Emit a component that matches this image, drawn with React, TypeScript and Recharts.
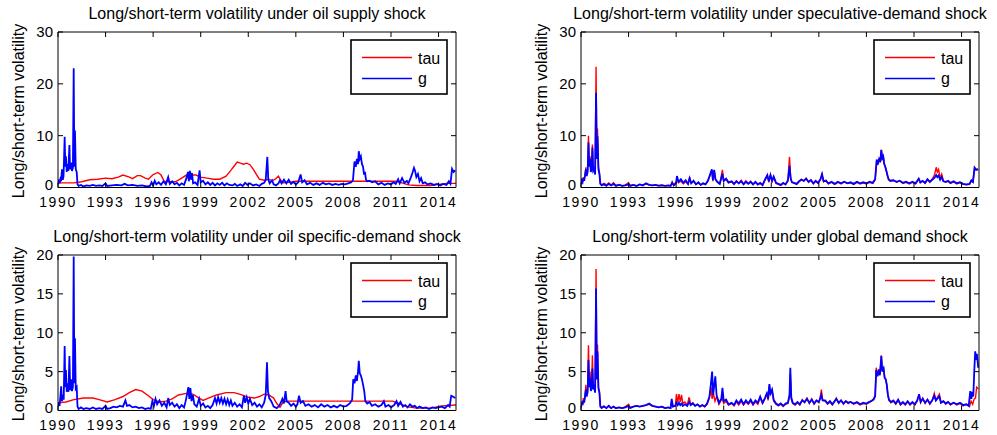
import { LineChart, Line, XAxis, YAxis } from 'recharts'

type Pt = [number, number]

const X_TICKS = [1990, 1993, 1996, 1999, 2002, 2005, 2008, 2011, 2014]
const X_DOMAIN: [number, number] = [1990, 2015.1]
const Y_TICKS_30 = [0, 10, 20, 30]
const Y_TICKS_20 = [0, 5, 10, 15, 20]
const Y_LABEL = 'Long/short-term volatility'
const SERIES_NAMES = ['tau', 'g']

const TITLES = [
  'Long/short-term volatility under oil supply shock',
  'Long/short-term volatility under speculative-demand shock',
  'Long/short-term volatility under oil specific-demand shock',
  'Long/short-term volatility under global demand shock',
]

// oil supply shock
const supplyTau: Pt[] = [
  [1990.0, 1.1], [1990.1, 0.9], [1991.0, 0.9], [1991.5, 1.1], [1992.0, 1.5], [1992.5, 1.6],
  [1993.0, 1.8], [1993.4, 1.7], [1993.8, 2.0], [1994.1, 2.4], [1994.5, 2.0], [1994.7, 1.7],
  [1995.0, 2.3], [1995.2, 2.3], [1995.5, 1.8], [1995.7, 1.6], [1996.0, 2.5], [1996.3, 2.9],
  [1996.5, 2.4], [1996.7, 1.2], [1997.0, 1.1], [1997.4, 1.1], [1997.7, 1.6], [1998.1, 2.4],
  [1998.4, 2.4], [1998.7, 2.4], [1999.0, 2.0], [1999.4, 1.8], [1999.8, 1.6], [2000.2, 1.6],
  [2000.6, 2.2], [2000.9, 3.3], [2001.1, 4.1], [2001.3, 4.9], [2001.5, 4.7], [2001.7, 4.5],
  [2001.9, 4.7], [2002.1, 4.4], [2002.3, 3.6], [2002.5, 2.6], [2002.7, 1.6], [2003.0, 1.4],
  [2003.3, 1.6], [2003.5, 1.3], [2003.7, 1.6], [2003.9, 2.2], [2004.05, 1.4], [2004.2, 0.9],
  [2004.6, 1.0], [2005.0, 1.2], [2011.3, 1.2], [2011.7, 0.9], [2012.1, 0.5], [2012.6, 0.4],
  [2013.5, 0.4], [2014.0, 0.6], [2014.5, 0.8], [2015.1, 0.8],
]
const supplyG: Pt[] = [
  [1990.0, 0.6], [1990.05, 1.5], [1990.1, 0.8], [1990.15, 1.6], [1990.2, 1.2], [1990.25, 3.5],
  [1990.3, 1.5], [1990.35, 2.2], [1990.42, 9.8], [1990.46, 4.0], [1990.5, 6.0], [1990.55, 3.0],
  [1990.6, 4.5], [1990.65, 3.2], [1990.72, 8.2], [1990.76, 3.5], [1990.82, 4.8], [1990.88, 3.2],
  [1990.94, 3.8], [1990.99, 23.0], [1991.03, 4.0], [1991.07, 11.0], [1991.12, 3.5], [1991.18, 3.0],
  [1991.23, 0.6], [1991.3, 0.3], [1991.45, 0.5], [1991.6, 0.2], [1991.8, 0.4], [1992.0, 0.3],
  [1992.2, 0.5], [1992.4, 0.3], [1992.6, 0.4], [1992.8, 0.3], [1993.0, 0.8], [1993.1, 0.3],
  [1993.4, 0.4], [1993.7, 0.5], [1994.0, 0.4], [1994.2, 0.7], [1994.4, 0.4], [1994.7, 0.5],
  [1995.0, 0.3], [1995.3, 0.4], [1995.6, 0.2], [1995.8, 0.3], [1995.9, 1.0], [1996.0, 0.4],
  [1996.1, 1.3], [1996.2, 0.6], [1996.35, 1.0], [1996.5, 0.5], [1996.65, 1.2], [1996.8, 0.6],
  [1996.95, 2.0], [1997.05, 0.7], [1997.2, 1.2], [1997.35, 0.6], [1997.5, 0.9], [1997.65, 0.4],
  [1997.8, 0.8], [1997.95, 0.5], [1998.1, 1.8], [1998.2, 3.0], [1998.25, 1.2], [1998.32, 3.2],
  [1998.38, 1.5], [1998.45, 2.8], [1998.52, 0.8], [1998.65, 1.0], [1998.8, 0.5], [1998.93, 3.3],
  [1999.0, 1.0], [1999.15, 1.3], [1999.3, 0.6], [1999.45, 1.0], [1999.6, 0.5], [1999.75, 0.9],
  [1999.9, 0.4], [2000.05, 0.8], [2000.2, 0.5], [2000.35, 0.9], [2000.5, 0.4], [2000.65, 0.8],
  [2000.8, 0.5], [2001.0, 0.4], [2001.15, 0.7], [2001.3, 0.3], [2001.5, 0.6], [2001.65, 0.3],
  [2001.8, 0.9], [2001.95, 0.5], [2002.1, 0.8], [2002.3, 0.4], [2002.5, 0.6], [2002.7, 0.3],
  [2002.85, 0.7], [2003.0, 0.9], [2003.1, 1.5], [2003.2, 5.9], [2003.26, 1.6], [2003.35, 0.8],
  [2003.5, 1.4], [2003.6, 0.6], [2003.75, 0.4], [2003.9, 0.8], [2004.0, 1.4], [2004.1, 0.8],
  [2004.25, 1.5], [2004.4, 0.8], [2004.55, 1.5], [2004.7, 0.7], [2004.85, 1.1], [2005.0, 0.6],
  [2005.15, 1.0], [2005.3, 2.5], [2005.4, 1.0], [2005.55, 1.4], [2005.7, 0.6], [2005.9, 0.9],
  [2006.1, 0.5], [2006.3, 0.8], [2006.5, 0.5], [2006.7, 0.9], [2006.9, 0.6], [2007.1, 0.8],
  [2007.3, 0.5], [2007.5, 0.7], [2007.7, 0.5], [2007.9, 0.7], [2008.1, 0.6], [2008.3, 0.8],
  [2008.5, 1.0], [2008.6, 1.4], [2008.7, 5.0], [2008.78, 4.0], [2008.85, 5.5], [2008.92, 4.5],
  [2008.97, 7.0], [2009.03, 5.5], [2009.1, 6.0], [2009.17, 4.5], [2009.24, 4.0], [2009.3, 2.5],
  [2009.36, 3.0], [2009.42, 1.5], [2009.5, 1.2], [2009.65, 1.3], [2009.8, 1.0], [2010.0, 1.2],
  [2010.2, 0.6], [2010.4, 0.9], [2010.6, 0.5], [2010.8, 0.8], [2011.0, 0.6], [2011.15, 1.0],
  [2011.3, 0.7], [2011.45, 1.6], [2011.55, 0.8], [2011.7, 1.8], [2011.85, 0.9], [2012.0, 1.3],
  [2012.1, 0.8], [2012.25, 1.9], [2012.35, 2.8], [2012.45, 3.8], [2012.52, 3.2], [2012.6, 2.0],
  [2012.7, 2.6], [2012.8, 1.2], [2012.9, 1.8], [2013.0, 0.8], [2013.15, 1.0], [2013.3, 0.6],
  [2013.5, 0.8], [2013.7, 0.5], [2013.9, 0.7], [2014.1, 0.4], [2014.3, 0.7], [2014.5, 0.5],
  [2014.65, 1.2], [2014.75, 0.7], [2014.85, 3.6], [2014.95, 3.0], [2015.05, 3.3],
]

// speculative-demand shock
const specTau: Pt[] = [
  [1990.0, 0.8], [1990.05, 1.5], [1990.1, 1.2], [1990.15, 2.0], [1990.2, 1.5], [1990.25, 2.5],
  [1990.31, 3.9], [1990.36, 2.5], [1990.42, 3.5], [1990.47, 10.0], [1990.52, 4.5], [1990.57, 6.0],
  [1990.62, 3.2], [1990.67, 4.0], [1990.72, 8.3], [1990.77, 3.5], [1990.83, 3.8], [1990.89, 2.8],
  [1990.95, 23.3], [1991.0, 6.0], [1991.04, 11.4], [1991.1, 4.0], [1991.16, 3.0], [1991.22, 0.8],
  [1991.3, 0.5], [1991.45, 0.8], [1991.6, 0.5], [1991.75, 0.9], [1991.9, 0.5], [1992.05, 0.9],
  [1992.2, 0.4], [1992.4, 0.6], [1992.6, 0.3], [1992.8, 0.5], [1993.0, 0.9], [1993.1, 0.4],
  [1993.3, 0.5], [1993.5, 0.3], [1993.7, 0.6], [1993.9, 0.5], [1994.1, 0.7], [1994.3, 0.5],
  [1994.5, 0.4], [1994.7, 0.5], [1994.9, 0.4], [1995.1, 0.5], [1995.3, 0.3], [1995.5, 0.4],
  [1995.65, 0.3], [1995.75, 1.1], [1995.85, 0.4], [1996.0, 0.8], [1996.05, 1.6], [1996.15, 0.9],
  [1996.3, 1.2], [1996.45, 0.7], [1996.6, 1.1], [1996.75, 0.6], [1996.85, 2.0], [1996.95, 0.8],
  [1997.1, 1.2], [1997.25, 0.6], [1997.4, 0.9], [1997.55, 0.5], [1997.7, 0.8], [1997.85, 0.6],
  [1998.0, 1.2], [1998.15, 2.4], [1998.25, 3.3], [1998.32, 1.2], [1998.4, 3.3], [1998.48, 1.5],
  [1998.6, 1.0], [1998.75, 0.7], [1998.92, 3.4], [1999.0, 1.2], [1999.15, 1.6], [1999.3, 0.9],
  [1999.5, 1.1], [1999.65, 0.6], [1999.8, 1.3], [1999.95, 0.8], [2000.1, 1.4], [2000.25, 0.7],
  [2000.4, 1.3], [2000.55, 0.8], [2000.7, 1.2], [2000.85, 0.6], [2001.0, 1.0], [2001.15, 0.5],
  [2001.3, 0.8], [2001.45, 0.4], [2001.6, 1.4], [2001.75, 2.2], [2001.85, 1.0], [2001.95, 2.5],
  [2002.05, 1.2], [2002.15, 2.0], [2002.3, 0.8], [2002.45, 0.6], [2002.6, 0.4], [2002.75, 0.8],
  [2002.9, 0.6], [2003.05, 1.5], [2003.15, 5.9], [2003.22, 2.0], [2003.3, 1.0], [2003.45, 0.8],
  [2003.6, 0.6], [2003.75, 1.1], [2003.9, 1.6], [2004.05, 1.2], [2004.2, 1.8], [2004.35, 1.0],
  [2004.5, 1.5], [2004.65, 0.7], [2004.8, 1.2], [2004.95, 0.8], [2005.1, 1.5], [2005.2, 2.5],
  [2005.3, 1.1], [2005.45, 1.4], [2005.6, 0.7], [2005.8, 1.0], [2006.0, 0.6], [2006.2, 1.0],
  [2006.4, 0.7], [2006.6, 1.1], [2006.8, 0.8], [2007.0, 0.9], [2007.2, 0.6], [2007.4, 1.0],
  [2007.6, 0.7], [2007.8, 0.9], [2008.0, 0.7], [2008.2, 1.0], [2008.4, 0.8], [2008.55, 1.5],
  [2008.65, 5.3], [2008.72, 4.3], [2008.8, 5.6], [2008.87, 4.8], [2008.94, 7.3], [2009.0, 5.5],
  [2009.06, 6.2], [2009.12, 4.5], [2009.2, 3.8], [2009.27, 3.0], [2009.33, 2.2], [2009.4, 1.5],
  [2009.5, 1.2], [2009.7, 1.4], [2009.9, 1.0], [2010.1, 1.3], [2010.3, 0.8], [2010.5, 1.0],
  [2010.7, 0.7], [2010.9, 1.0], [2011.1, 0.7], [2011.3, 1.6], [2011.4, 0.9], [2011.55, 1.2],
  [2011.7, 0.8], [2011.85, 1.5], [2012.0, 1.0], [2012.15, 1.6], [2012.3, 2.5], [2012.4, 3.9],
  [2012.47, 3.0], [2012.55, 3.5], [2012.65, 1.8], [2012.75, 2.6], [2012.85, 1.3], [2013.0, 1.0],
  [2013.15, 1.2], [2013.3, 0.8], [2013.5, 1.1], [2013.7, 0.7], [2013.9, 1.0], [2014.1, 0.6],
  [2014.3, 0.5], [2014.5, 0.6], [2014.62, 1.3], [2014.72, 1.0], [2014.82, 3.9], [2014.92, 3.5],
  [2015.05, 3.6],
]
const specG: Pt[] = [
  [1990.0, 0.6], [1990.05, 1.3], [1990.1, 1.0], [1990.15, 1.8], [1990.2, 1.3], [1990.25, 2.2],
  [1990.31, 3.5], [1990.36, 2.2], [1990.42, 3.0], [1990.47, 8.7], [1990.52, 4.0], [1990.57, 5.5],
  [1990.62, 3.0], [1990.67, 3.6], [1990.72, 7.7], [1990.77, 3.2], [1990.83, 3.5], [1990.89, 2.5],
  [1990.95, 18.3], [1991.0, 5.5], [1991.04, 9.9], [1991.1, 3.5], [1991.16, 2.6], [1991.22, 0.7],
  [1991.3, 0.4], [1991.45, 0.6], [1991.6, 0.3], [1991.75, 0.7], [1991.9, 0.4], [1992.05, 0.7],
  [1992.2, 0.3], [1992.4, 0.5], [1992.6, 0.3], [1992.8, 0.4], [1993.0, 0.6], [1993.1, 0.3],
  [1993.3, 0.5], [1993.5, 0.3], [1993.7, 0.6], [1993.9, 0.4], [1994.1, 0.8], [1994.3, 0.5],
  [1994.5, 0.4], [1994.7, 0.5], [1994.9, 0.3], [1995.1, 0.4], [1995.3, 0.3], [1995.5, 0.4],
  [1995.65, 0.3], [1995.75, 0.9], [1995.85, 0.4], [1996.0, 1.0], [1996.05, 2.2], [1996.15, 1.1],
  [1996.3, 1.6], [1996.45, 0.9], [1996.6, 1.4], [1996.75, 0.7], [1996.85, 1.8], [1996.95, 0.8],
  [1997.1, 1.3], [1997.25, 0.6], [1997.4, 1.0], [1997.55, 0.5], [1997.7, 0.8], [1997.85, 0.6],
  [1998.0, 1.3], [1998.15, 2.6], [1998.25, 3.5], [1998.32, 1.4], [1998.4, 3.4], [1998.48, 1.6],
  [1998.6, 1.1], [1998.75, 0.7], [1998.92, 2.6], [1999.0, 1.3], [1999.15, 1.7], [1999.3, 1.0],
  [1999.5, 1.2], [1999.65, 0.7], [1999.8, 1.2], [1999.95, 0.8], [2000.1, 1.2], [2000.25, 0.6],
  [2000.4, 1.1], [2000.55, 0.7], [2000.7, 1.1], [2000.85, 0.6], [2001.0, 1.1], [2001.15, 0.6],
  [2001.3, 0.9], [2001.45, 0.5], [2001.6, 1.5], [2001.75, 2.4], [2001.85, 1.2], [2001.95, 2.4],
  [2002.05, 1.3], [2002.15, 2.1], [2002.3, 0.9], [2002.45, 0.7], [2002.6, 0.5], [2002.75, 0.9],
  [2002.9, 0.6], [2003.05, 1.3], [2003.15, 4.2], [2003.22, 1.8], [2003.3, 1.0], [2003.45, 0.9],
  [2003.6, 0.7], [2003.75, 1.2], [2003.9, 1.5], [2004.05, 1.3], [2004.2, 1.7], [2004.35, 1.1],
  [2004.5, 1.4], [2004.65, 0.8], [2004.8, 1.3], [2004.95, 0.9], [2005.1, 1.6], [2005.2, 2.6],
  [2005.3, 1.2], [2005.45, 1.3], [2005.6, 0.8], [2005.8, 1.1], [2006.0, 0.7], [2006.2, 1.1],
  [2006.4, 0.8], [2006.6, 1.1], [2006.8, 0.8], [2007.0, 1.0], [2007.2, 0.7], [2007.4, 1.1],
  [2007.6, 0.8], [2007.8, 1.0], [2008.0, 0.8], [2008.2, 1.1], [2008.4, 0.9], [2008.55, 1.6],
  [2008.65, 5.4], [2008.72, 4.5], [2008.8, 5.5], [2008.87, 5.0], [2008.94, 7.2], [2009.0, 5.6],
  [2009.06, 6.0], [2009.12, 4.6], [2009.2, 3.9], [2009.27, 3.1], [2009.33, 2.3], [2009.4, 1.6],
  [2009.5, 1.3], [2009.7, 1.4], [2009.9, 1.1], [2010.1, 1.3], [2010.3, 0.9], [2010.5, 1.1],
  [2010.7, 0.8], [2010.9, 1.1], [2011.1, 0.8], [2011.3, 1.7], [2011.4, 1.0], [2011.55, 1.3],
  [2011.7, 0.9], [2011.85, 1.6], [2012.0, 1.1], [2012.15, 1.5], [2012.3, 1.9], [2012.4, 2.4],
  [2012.47, 2.0], [2012.55, 2.3], [2012.65, 1.5], [2012.75, 2.0], [2012.85, 1.2], [2013.0, 1.1],
  [2013.15, 1.3], [2013.3, 0.9], [2013.5, 1.2], [2013.7, 0.8], [2013.9, 1.0], [2014.1, 0.7],
  [2014.3, 0.6], [2014.5, 0.7], [2014.62, 1.4], [2014.72, 1.1], [2014.82, 3.8], [2014.92, 3.4],
  [2015.05, 3.5],
]

// oil specific-demand shock
const specificTau: Pt[] = [
  [1990.0, 1.0], [1990.5, 1.1], [1991.0, 1.4], [1991.6, 1.6], [1992.2, 1.6], [1992.6, 1.4],
  [1993.1, 1.1], [1993.6, 1.4], [1994.1, 1.8], [1994.5, 2.3], [1994.9, 2.7], [1995.3, 2.5],
  [1995.7, 1.9], [1996.0, 1.4], [1996.4, 1.1], [1996.8, 1.2], [1997.2, 1.5], [1997.6, 2.0],
  [1998.1, 2.2], [1998.5, 2.1], [1998.9, 1.6], [1999.15, 1.3], [1999.6, 1.7], [2000.0, 2.0],
  [2000.6, 2.3], [2001.1, 2.3], [2001.6, 2.0], [2002.0, 1.7], [2002.4, 1.6], [2002.7, 1.8],
  [2003.0, 2.1], [2003.3, 2.0], [2003.6, 1.6], [2003.8, 0.9], [2004.0, 0.4], [2004.2, 1.1],
  [2004.5, 1.2], [2011.1, 1.2], [2011.5, 0.9], [2012.0, 0.5], [2012.6, 0.3], [2013.5, 0.3],
  [2014.2, 0.6], [2015.1, 0.7],
]
const specificG: Pt[] = [
  [1990.0, 0.5], [1990.05, 1.0], [1990.1, 0.6], [1990.15, 1.8], [1990.2, 3.1], [1990.25, 1.2],
  [1990.3, 2.0], [1990.36, 1.4], [1990.42, 8.3], [1990.46, 3.0], [1990.5, 5.2], [1990.55, 2.4],
  [1990.6, 3.5], [1990.66, 2.4], [1990.72, 7.0], [1990.77, 2.6], [1990.82, 4.0], [1990.88, 2.5],
  [1990.94, 3.0], [1990.99, 19.8], [1991.03, 3.5], [1991.07, 9.3], [1991.12, 2.8], [1991.18, 3.0],
  [1991.23, 0.5], [1991.3, 0.2], [1991.45, 0.4], [1991.6, 0.2], [1991.8, 0.3], [1992.0, 0.2],
  [1992.2, 0.4], [1992.4, 0.2], [1992.6, 0.3], [1992.8, 0.2], [1993.0, 0.6], [1993.1, 0.2],
  [1993.3, 0.3], [1993.5, 0.5], [1993.7, 0.4], [1993.9, 0.6], [1994.1, 0.5], [1994.25, 1.3],
  [1994.35, 0.6], [1994.5, 0.7], [1994.7, 0.4], [1994.9, 0.5], [1995.1, 0.3], [1995.3, 0.4],
  [1995.5, 0.2], [1995.7, 0.3], [1995.85, 0.2], [1995.95, 1.2], [1996.05, 0.6], [1996.15, 1.5],
  [1996.25, 0.8], [1996.4, 1.3], [1996.55, 0.6], [1996.7, 1.0], [1996.85, 0.4], [1996.95, 1.6],
  [1997.05, 0.7], [1997.2, 1.0], [1997.35, 0.5], [1997.5, 0.8], [1997.65, 0.3], [1997.8, 0.7],
  [1997.95, 0.4], [1998.05, 1.2], [1998.15, 2.2], [1998.22, 3.0], [1998.28, 1.5], [1998.35, 2.9],
  [1998.42, 1.2], [1998.5, 2.0], [1998.6, 0.8], [1998.75, 0.5], [1998.9, 1.5], [1999.0, 0.6],
  [1999.15, 0.9], [1999.3, 0.4], [1999.45, 0.6], [1999.6, 0.3], [1999.75, 0.7], [1999.9, 1.6],
  [2000.0, 0.9], [2000.1, 1.7], [2000.2, 1.0], [2000.3, 1.6], [2000.4, 0.9], [2000.5, 1.5],
  [2000.6, 0.8], [2000.7, 1.4], [2000.8, 0.7], [2000.9, 1.3], [2001.0, 0.6], [2001.15, 1.0],
  [2001.3, 0.5], [2001.45, 0.8], [2001.6, 0.4], [2001.72, 1.9], [2001.8, 1.0], [2001.9, 1.7],
  [2002.0, 0.9], [2002.1, 1.5], [2002.25, 0.7], [2002.4, 1.0], [2002.55, 0.5], [2002.7, 0.8],
  [2002.85, 0.4], [2003.0, 1.0], [2003.1, 2.0], [2003.18, 6.2], [2003.24, 2.5], [2003.32, 1.6],
  [2003.45, 1.2], [2003.6, 0.5], [2003.8, 0.3], [2003.95, 0.6], [2004.05, 1.0], [2004.15, 1.5],
  [2004.25, 0.9], [2004.35, 2.5], [2004.42, 1.2], [2004.55, 1.0], [2004.7, 0.6], [2004.85, 0.9],
  [2005.0, 0.5], [2005.1, 0.8], [2005.2, 1.9], [2005.3, 1.0], [2005.45, 1.2], [2005.6, 0.6],
  [2005.8, 0.8], [2006.0, 0.5], [2006.2, 0.7], [2006.4, 0.4], [2006.6, 0.8], [2006.8, 0.5],
  [2007.0, 0.7], [2007.2, 0.4], [2007.4, 0.6], [2007.6, 0.4], [2007.8, 0.7], [2008.0, 0.5],
  [2008.2, 0.6], [2008.4, 0.9], [2008.55, 1.4], [2008.62, 4.0], [2008.7, 3.5], [2008.78, 4.5],
  [2008.85, 3.8], [2008.92, 5.0], [2008.97, 6.4], [2009.03, 4.8], [2009.1, 4.5], [2009.17, 4.0],
  [2009.25, 3.2], [2009.32, 2.4], [2009.38, 1.2], [2009.5, 0.9], [2009.65, 1.1], [2009.8, 0.6],
  [2010.0, 0.8], [2010.2, 0.5], [2010.4, 0.7], [2010.55, 1.2], [2010.65, 0.5], [2010.85, 0.7],
  [2011.0, 0.4], [2011.2, 0.7], [2011.35, 1.2], [2011.45, 0.6], [2011.6, 1.1], [2011.75, 0.5],
  [2011.9, 0.7], [2012.05, 0.4], [2012.2, 0.8], [2012.35, 0.5], [2012.5, 0.6], [2012.65, 0.3],
  [2012.8, 0.5], [2013.0, 0.3], [2013.2, 0.4], [2013.4, 0.2], [2013.6, 0.4], [2013.8, 0.3],
  [2014.0, 0.4], [2014.2, 0.5], [2014.4, 0.3], [2014.6, 0.7], [2014.7, 0.5], [2014.8, 1.9],
  [2014.9, 1.8], [2015.05, 1.6],
]

// global demand shock
const globalTau: Pt[] = [
  [1990.0, 0.5], [1990.05, 1.2], [1990.1, 0.8], [1990.15, 1.6], [1990.2, 1.2], [1990.25, 2.0],
  [1990.31, 3.3], [1990.36, 2.0], [1990.42, 2.8], [1990.47, 8.4], [1990.52, 3.5], [1990.57, 5.0],
  [1990.62, 2.8], [1990.67, 3.4], [1990.72, 7.1], [1990.77, 3.0], [1990.83, 3.4], [1990.89, 2.5],
  [1990.95, 18.2], [1991.0, 4.5], [1991.04, 8.5], [1991.1, 3.0], [1991.16, 2.5], [1991.22, 0.6],
  [1991.3, 0.4], [1991.45, 0.6], [1991.6, 0.3], [1991.75, 0.6], [1991.9, 0.3], [1992.05, 0.5],
  [1992.2, 0.3], [1992.4, 0.4], [1992.6, 0.3], [1992.8, 0.5], [1993.0, 0.8], [1993.1, 0.4],
  [1993.3, 0.5], [1993.5, 0.6], [1993.7, 0.5], [1993.9, 0.6], [1994.1, 0.7], [1994.3, 0.8],
  [1994.5, 0.6], [1994.7, 0.5], [1994.9, 0.4], [1995.1, 0.5], [1995.3, 0.3], [1995.5, 0.4],
  [1995.65, 0.3], [1995.72, 1.2], [1995.8, 0.5], [1995.95, 0.6], [1996.02, 2.1], [1996.1, 1.0],
  [1996.18, 2.1], [1996.26, 1.1], [1996.34, 2.0], [1996.42, 0.9], [1996.55, 1.1], [1996.7, 0.7],
  [1996.82, 1.7], [1996.92, 0.8], [1997.05, 1.0], [1997.2, 0.6], [1997.35, 0.8], [1997.5, 0.5],
  [1997.65, 0.7], [1997.8, 0.5], [1997.95, 0.8], [1998.1, 1.6], [1998.2, 3.0], [1998.27, 1.5],
  [1998.35, 2.2], [1998.45, 1.2], [1998.55, 1.8], [1998.7, 0.8], [1998.9, 1.6], [1999.0, 0.9],
  [1999.15, 1.2], [1999.3, 0.7], [1999.5, 0.9], [1999.65, 0.6], [1999.8, 1.1], [1999.95, 0.7],
  [2000.1, 1.2], [2000.25, 0.7], [2000.4, 1.1], [2000.55, 0.8], [2000.7, 1.2], [2000.85, 0.7],
  [2001.0, 1.1], [2001.15, 0.8], [2001.3, 1.6], [2001.45, 0.9], [2001.6, 1.5], [2001.72, 2.3],
  [2001.8, 1.3], [2001.88, 3.2], [2001.95, 2.0], [2002.05, 2.6], [2002.15, 1.2], [2002.3, 0.8],
  [2002.45, 0.6], [2002.6, 0.8], [2002.75, 0.5], [2002.9, 0.8], [2003.05, 0.9], [2003.15, 1.8],
  [2003.2, 4.8], [2003.26, 1.5], [2003.35, 0.9], [2003.5, 0.7], [2003.65, 1.0], [2003.8, 0.7],
  [2003.95, 1.4], [2004.1, 1.0], [2004.25, 1.6], [2004.4, 0.9], [2004.55, 1.5], [2004.7, 0.8],
  [2004.85, 1.3], [2005.0, 1.0], [2005.1, 1.9], [2005.16, 2.7], [2005.24, 1.3], [2005.4, 1.2],
  [2005.55, 0.8], [2005.7, 1.1], [2005.85, 0.7], [2006.0, 1.2], [2006.1, 1.6], [2006.25, 0.9],
  [2006.4, 1.3], [2006.55, 0.8], [2006.7, 1.2], [2006.85, 0.9], [2007.0, 1.1], [2007.2, 0.8],
  [2007.4, 1.0], [2007.6, 0.7], [2007.8, 0.9], [2008.0, 0.8], [2008.15, 1.0], [2008.3, 1.2],
  [2008.45, 1.5], [2008.55, 2.0], [2008.62, 5.5], [2008.7, 4.6], [2008.78, 5.3], [2008.85, 4.5],
  [2008.94, 7.1], [2009.0, 5.2], [2009.08, 5.6], [2009.15, 4.2], [2009.22, 4.0], [2009.28, 3.3],
  [2009.35, 2.0], [2009.42, 1.3], [2009.55, 1.0], [2009.7, 1.2], [2009.85, 0.8], [2010.0, 1.3],
  [2010.15, 0.7], [2010.3, 1.0], [2010.45, 0.7], [2010.6, 1.1], [2010.75, 0.7], [2010.9, 1.0],
  [2011.05, 0.7], [2011.2, 1.2], [2011.32, 2.0], [2011.42, 1.0], [2011.55, 1.6], [2011.7, 0.9],
  [2011.85, 1.4], [2012.0, 0.8], [2012.15, 1.3], [2012.28, 2.2], [2012.38, 1.3], [2012.5, 1.8],
  [2012.6, 2.1], [2012.7, 1.0], [2012.85, 1.2], [2013.0, 0.8], [2013.15, 1.1], [2013.3, 0.7],
  [2013.5, 1.0], [2013.7, 0.7], [2013.9, 0.9], [2014.1, 0.6], [2014.3, 0.8], [2014.5, 0.5],
  [2014.6, 1.2], [2014.7, 0.8], [2014.8, 1.5], [2014.88, 1.6], [2014.95, 3.0], [2015.05, 2.8],
]
const globalG: Pt[] = [
  [1990.0, 0.4], [1990.05, 1.0], [1990.1, 0.7], [1990.15, 1.3], [1990.2, 1.0], [1990.25, 1.7],
  [1990.31, 2.7], [1990.36, 1.8], [1990.42, 2.4], [1990.47, 6.5], [1990.52, 3.0], [1990.57, 4.2],
  [1990.62, 2.5], [1990.67, 3.0], [1990.72, 5.4], [1990.77, 2.7], [1990.83, 3.0], [1990.89, 2.3],
  [1990.95, 15.7], [1991.0, 4.0], [1991.04, 7.6], [1991.1, 2.8], [1991.16, 2.3], [1991.22, 0.5],
  [1991.3, 0.3], [1991.45, 0.5], [1991.6, 0.3], [1991.75, 0.6], [1991.9, 0.3], [1992.05, 0.5],
  [1992.2, 0.3], [1992.4, 0.4], [1992.6, 0.3], [1992.8, 0.4], [1993.0, 0.6], [1993.1, 0.3],
  [1993.3, 0.5], [1993.5, 0.6], [1993.7, 0.5], [1993.9, 0.6], [1994.1, 0.7], [1994.3, 0.9],
  [1994.5, 0.6], [1994.7, 0.5], [1994.9, 0.4], [1995.1, 0.5], [1995.3, 0.3], [1995.5, 0.4],
  [1995.65, 0.3], [1995.72, 1.5], [1995.8, 0.5], [1995.95, 0.6], [1996.02, 1.0], [1996.1, 0.7],
  [1996.18, 1.0], [1996.26, 0.7], [1996.34, 0.9], [1996.42, 0.6], [1996.55, 0.8], [1996.7, 0.6],
  [1996.82, 1.1], [1996.92, 0.7], [1997.05, 0.9], [1997.2, 0.6], [1997.35, 0.8], [1997.5, 0.5],
  [1997.65, 0.7], [1997.8, 0.5], [1997.95, 0.9], [1998.1, 1.8], [1998.2, 3.6], [1998.27, 5.0],
  [1998.33, 2.0], [1998.4, 3.2], [1998.47, 4.4], [1998.55, 2.0], [1998.7, 1.0], [1998.85, 1.5],
  [1998.92, 2.9], [1999.0, 1.2], [1999.15, 1.4], [1999.3, 0.8], [1999.5, 1.0], [1999.65, 0.7],
  [1999.8, 1.3], [1999.95, 0.9], [2000.1, 1.4], [2000.25, 0.8], [2000.4, 1.3], [2000.55, 0.9],
  [2000.7, 1.4], [2000.85, 0.8], [2001.0, 1.3], [2001.15, 1.0], [2001.3, 1.8], [2001.45, 1.0],
  [2001.6, 1.6], [2001.72, 2.2], [2001.8, 1.5], [2001.88, 3.4], [2001.95, 2.2], [2002.05, 2.7],
  [2002.15, 1.4], [2002.3, 0.9], [2002.45, 0.7], [2002.6, 0.9], [2002.75, 0.6], [2002.9, 0.9],
  [2003.05, 1.0], [2003.15, 2.0], [2003.2, 5.5], [2003.26, 1.7], [2003.35, 1.0], [2003.5, 0.8],
  [2003.65, 1.1], [2003.8, 0.8], [2003.95, 1.3], [2004.1, 1.1], [2004.25, 1.5], [2004.4, 1.0],
  [2004.55, 1.4], [2004.7, 0.9], [2004.85, 1.3], [2005.0, 1.1], [2005.1, 1.6], [2005.16, 2.0],
  [2005.24, 1.3], [2005.4, 1.3], [2005.55, 0.9], [2005.7, 1.2], [2005.85, 0.8], [2006.0, 1.2],
  [2006.1, 1.5], [2006.25, 1.0], [2006.4, 1.3], [2006.55, 0.9], [2006.7, 1.2], [2006.85, 1.0],
  [2007.0, 1.1], [2007.2, 0.9], [2007.4, 1.1], [2007.6, 0.8], [2007.8, 1.0], [2008.0, 0.9],
  [2008.15, 1.1], [2008.3, 1.2], [2008.45, 1.4], [2008.55, 1.8], [2008.62, 5.2], [2008.7, 4.4],
  [2008.78, 5.0], [2008.85, 4.6], [2008.94, 7.0], [2009.0, 5.0], [2009.08, 5.4], [2009.15, 4.2],
  [2009.22, 4.0], [2009.28, 3.4], [2009.35, 2.1], [2009.42, 1.4], [2009.55, 1.1], [2009.7, 1.3],
  [2009.85, 0.9], [2010.0, 1.4], [2010.15, 0.8], [2010.3, 1.1], [2010.45, 0.8], [2010.6, 1.2],
  [2010.75, 0.8], [2010.9, 1.1], [2011.05, 0.8], [2011.2, 1.3], [2011.32, 2.1], [2011.42, 1.1],
  [2011.55, 1.5], [2011.7, 1.0], [2011.85, 1.4], [2012.0, 0.9], [2012.15, 1.3], [2012.28, 1.9],
  [2012.38, 1.3], [2012.5, 1.6], [2012.6, 1.8], [2012.7, 1.0], [2012.85, 1.2], [2013.0, 0.9],
  [2013.15, 1.1], [2013.3, 0.8], [2013.5, 1.0], [2013.7, 0.8], [2013.9, 1.0], [2014.1, 0.7],
  [2014.3, 0.8], [2014.45, 0.6], [2014.55, 2.5], [2014.62, 1.5], [2014.68, 2.4], [2014.74, 1.8],
  [2014.8, 5.0], [2014.86, 7.6], [2014.92, 6.5], [2014.97, 7.3], [2015.05, 5.5],
]

const FONT = '"Liberation Sans", Arial, Helvetica, sans-serif'
const RED = '#ff0000'
const BLUE = '#0000ff'
const CHART_W = 497
const CHART_H = 215
// plot box: x 58..456, y 32..187.5 inside each panel
const LEFT_AXIS_W = 50
const RIGHT_AXIS_W = 10
const TOP_AXIS_H = 10
const BOTTOM_AXIS_H = 25
const MARGIN = {
  top: 32 - TOP_AXIS_H,
  right: 41 - RIGHT_AXIS_W,
  bottom: 27.5 - BOTTOM_AXIS_H,
  left: 58 - LEFT_AXIS_W,
}

const rows = (pts: Pt[]) => pts.map(([t, v]) => ({ t, v }))
const blank = () => ''

// y tick label; the "0" sits a touch higher so it clears the first year label
function YTick(props: any) {
  const { x, y, payload } = props
  const lift = payload.value === 0 ? 2.5 : 0
  return (
    <text
      x={x}
      y={y - lift}
      dy="0.355em"
      textAnchor="end"
      fill="#000"
      fontSize={15}
      fontFamily={FONT}
    >
      {payload.value}
    </text>
  )
}

type PanelProps = {
  left: number
  top: number
  title: string
  tau: Pt[]
  g: Pt[]
  yTicks: number[]
}

function Legend() {
  return (
    <svg width={98} height={56} style={{ position: 'absolute', left: 350, top: 38.5 }}>
      <rect x={1} y={1} width={96} height={54} fill="#fff" stroke="#000" strokeWidth={1.6} />
      <line x1={12} x2={62} y1={18.5} y2={18.5} stroke={RED} strokeWidth={1.3} />
      <line x1={12} x2={62} y1={39.5} y2={39.5} stroke={BLUE} strokeWidth={1.3} />
      <text x={68} y={25} fontSize={16} fontFamily={FONT} fill="#000">{SERIES_NAMES[0]}</text>
      <text x={68} y={45} fontSize={16} fontFamily={FONT} fill="#000">{SERIES_NAMES[1]}</text>
    </svg>
  )
}

function Panel({ left, top, title, tau, g, yTicks }: PanelProps) {
  const yMax = yTicks[yTicks.length - 1]
  const plotCenter = 58 + (456 - 58) / 2
  return (
    <div style={{ position: 'absolute', left, top, width: CHART_W, height: CHART_H }}>
      <LineChart width={CHART_W} height={CHART_H} margin={MARGIN}>
        <XAxis
          xAxisId="b"
          type="number"
          dataKey="t"
          domain={X_DOMAIN}
          ticks={X_TICKS}
          interval={0}
          allowDataOverflow
          height={BOTTOM_AXIS_H}
          tickSize={-5}
          tickMargin={14.5}
          stroke="#000"
          tick={{ fill: '#000', fontSize: 14, fontFamily: FONT, letterSpacing: 1.6 }}
        />
        <XAxis
          xAxisId="t"
          orientation="top"
          type="number"
          dataKey="t"
          domain={X_DOMAIN}
          ticks={X_TICKS}
          interval={0}
          allowDataOverflow
          height={TOP_AXIS_H}
          tickSize={-5}
          stroke="#000"
          tickFormatter={blank}
        />
        <YAxis
          yAxisId="l"
          type="number"
          domain={[0, yMax]}
          ticks={yTicks}
          interval={0}
          allowDataOverflow
          width={LEFT_AXIS_W}
          tickSize={-5}
          tickMargin={10}
          stroke="#000"
          tick={<YTick />}
        />
        <YAxis
          yAxisId="r"
          orientation="right"
          type="number"
          domain={[0, yMax]}
          ticks={yTicks}
          interval={0}
          allowDataOverflow
          width={RIGHT_AXIS_W}
          tickSize={-5}
          stroke="#000"
          tickFormatter={blank}
        />
        <Line
          xAxisId="b"
          yAxisId="l"
          data={rows(tau)}
          dataKey="v"
          name={SERIES_NAMES[0]}
          stroke={RED}
          strokeWidth={1.4}
          dot={false}
          isAnimationActive={false}
        />
        <Line
          xAxisId="b"
          yAxisId="l"
          data={rows(g)}
          dataKey="v"
          name={SERIES_NAMES[1]}
          stroke={BLUE}
          strokeWidth={1.8}
          dot={false}
          isAnimationActive={false}
        />
      </LineChart>
      <div
        style={{
          position: 'absolute',
          left: plotCenter - 250,
          top: 6,
          width: 500,
          textAlign: 'center',
          fontFamily: FONT,
          fontSize: 16,
          lineHeight: '16px',
          whiteSpace: 'nowrap',
        }}
      >
        {title}
      </div>
      <div
        style={{
          position: 'absolute',
          left: 18.5 - 100,
          top: 111 - 10,
          width: 200,
          height: 20,
          lineHeight: '20px',
          textAlign: 'center',
          fontFamily: FONT,
          fontSize: 16,
          whiteSpace: 'nowrap',
          transform: 'rotate(-90deg)',
        }}
      >
        {Y_LABEL}
      </div>
      <Legend />
    </div>
  )
}

export default function App() {
  return (
    <div style={{ position: 'absolute', left: 0, top: 0, width: 997, height: 435, background: '#fff' }}>
      <Panel left={0} top={0} title={TITLES[0]} tau={supplyTau} g={supplyG} yTicks={Y_TICKS_30} />
      <Panel left={523} top={0} title={TITLES[1]} tau={specTau} g={specG} yTicks={Y_TICKS_30} />
      <Panel left={0} top={223} title={TITLES[2]} tau={specificTau} g={specificG} yTicks={Y_TICKS_20} />
      <Panel left={523} top={223} title={TITLES[3]} tau={globalTau} g={globalG} yTicks={Y_TICKS_20} />
    </div>
  )
}
